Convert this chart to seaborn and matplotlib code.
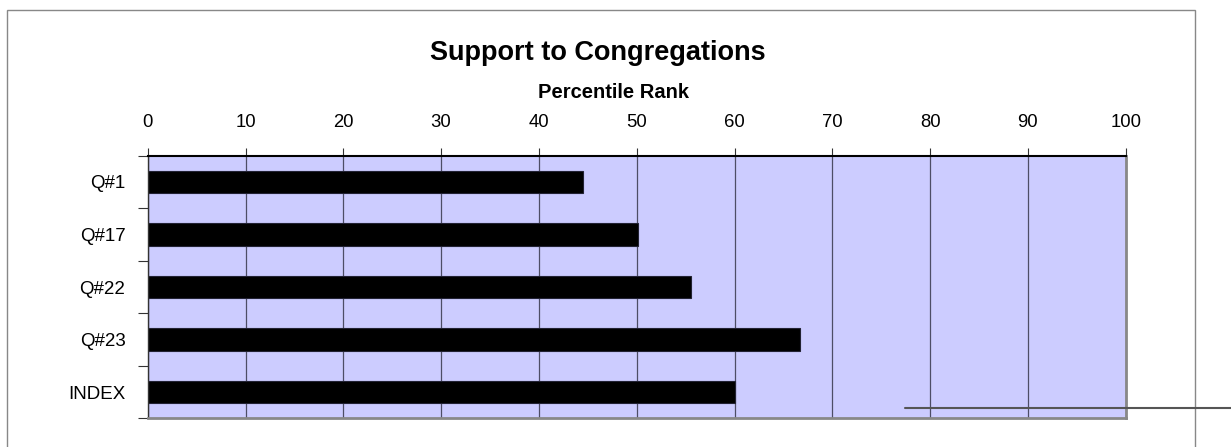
import matplotlib
matplotlib.use("Agg")
import matplotlib.pyplot as plt
import seaborn as sns
import pandas as pd
from matplotlib.patches import Rectangle
from matplotlib.lines import Line2D

categories = ["Q#1", "Q#17", "Q#22", "Q#23", "INDEX"]
values = [44.5, 50.1, 55.6, 66.7, 60.1]
x_ticks = [0, 10, 20, 30, 40, 50, 60, 70, 80, 90, 100]
title = "Support to Congregations"
axis_title = "Percentile Rank"

sns.set_style("white")
plt.rcParams["font.family"] = ["Liberation Sans", "DejaVu Sans"]
plt.rcParams["text.color"] = "black"
plt.rcParams["xtick.color"] = "black"
plt.rcParams["ytick.color"] = "black"
plt.rcParams["axes.labelcolor"] = "black"

W, H = 1231, 447
fig = plt.figure(figsize=(W / 100, H / 100), dpi=100)
ax = fig.add_axes([147.7 / W, (H - 418.3) / H, (1125.7 - 147.7) / W, (418.3 - 155.7) / H])

df = pd.DataFrame({"cat": categories, "val": values})
sns.barplot(data=df, x="val", y="cat", orient="h", color="black",
            width=0.43, edgecolor="#222233", linewidth=0.8, ax=ax, saturation=1)

ax.set_facecolor("#CCCCFF")
ax.set_xlim(0, 100)
ax.set_ylim(4.5, -0.5)
ax.set_xlabel("")
ax.set_ylabel("")

ax.xaxis.tick_top()
ax.set_xticks(x_ticks)
ax.set_xticklabels([str(t) for t in x_ticks], fontsize=13.3, color="black")
ax.tick_params(axis="x", which="major", length=6, width=0.8, color="#333333",
               pad=12, direction="out", top=True, bottom=False)

ax.set_yticks(range(len(categories)))
ax.set_yticklabels(categories, fontsize=13.5, color="black")
ax.tick_params(axis="y", which="major", length=0, pad=16)
ax.set_yticks([i - 0.5 for i in range(len(categories) + 1)], minor=True)
ax.tick_params(axis="y", which="minor", length=7, width=0.8, color="#333333",
               direction="out", left=True)

ax.grid(axis="x", color="#4d4d66", linewidth=0.9)
ax.grid(axis="y", visible=False)
ax.set_axisbelow(True)

for side, col, lw in [("top", "black", 1.5), ("left", "#333333", 1.0),
                      ("right", "#888888", 2.0), ("bottom", "#888888", 2.0)]:
    ax.spines[side].set_visible(True)
    ax.spines[side].set_color(col)
    ax.spines[side].set_linewidth(lw)

fig.text(597.5 / W, (H - 53) / H, title, fontsize=19.5, fontweight="bold",
         ha="center", va="center", color="black")
fig.text(613 / W, (H - 92) / H, axis_title, fontsize=14.5, fontweight="bold",
         ha="center", va="center", color="black")

# outer chart frame
fig.add_artist(Rectangle((7 / W, -10 / H), (1195 - 7) / W, (H - 10 + 10) / H,
                         transform=fig.transFigure, fill=False,
                         edgecolor="#888888", linewidth=1.0))
# stray line
fig.add_artist(Line2D([905 / W, 1231 / W], [(H - 408) / H, (H - 408) / H],
                      transform=fig.transFigure, color="#555555", linewidth=1.5))

fig.savefig("out.png", dpi=100)
